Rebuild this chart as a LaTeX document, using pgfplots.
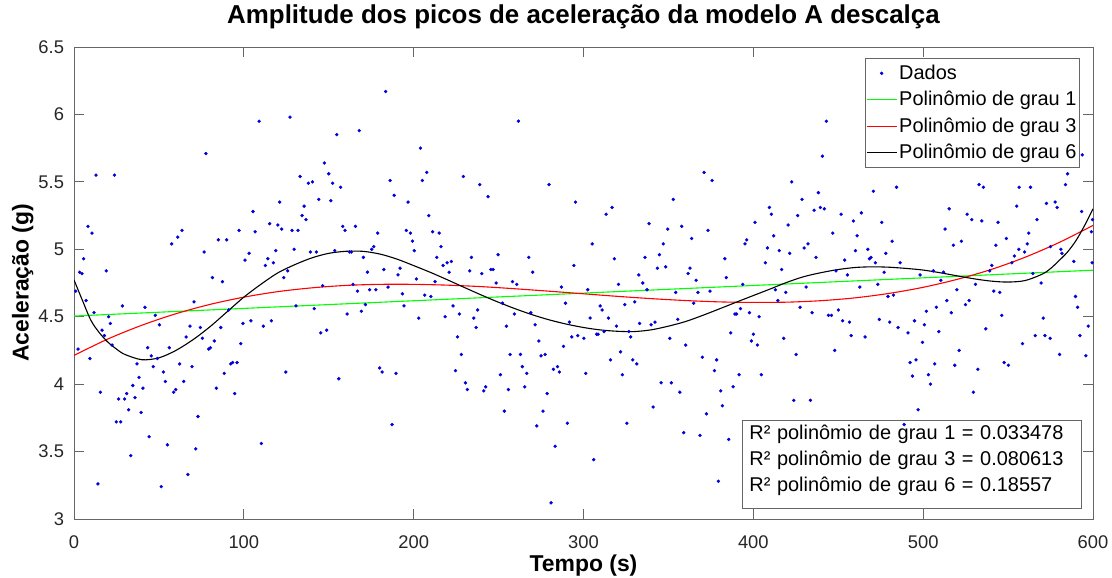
\documentclass[border=0pt]{standalone}
\usepackage{fontspec}
\setmainfont{Liberation Sans}
\usepackage{pgfplots}
\usepackage{pgfplotstable}
\pgfplotsset{compat=1.18}
\definecolor{axgray}{gray}{0.4}
\definecolor{ticktext}{gray}{0.15}
\definecolor{dotblue}{rgb}{0,0,0.85}
\definecolor{mgreen}{rgb}{0,1,0}
\definecolor{mred}{rgb}{1,0,0}
\pgfplotsset{
  linleg/.style={legend image code/.code={\draw[##1] (0bp,0bp) -- (15bp,0bp);}},
  dotleg/.style={legend image code/.code={\path (0bp,0bp) (15bp,0bp); \draw[##1] plot coordinates {(7.5bp,0bp)};}},
}

\pgfplotstableread{
t y
109.0 5.95
77.7 5.71
13.0 5.55
23.8 5.55
105.4 5.28
8.2 5.17
10.6 5.12
63.6 5.14
61.1 5.09
57.5 5.04
97.2 5.14
106.6 5.13
85.0 5.07
89.9 5.07
76.6 4.98
103.1 4.97
100.7 4.92
5.7 4.93
3.3 4.83
4.7 4.82
19.0 4.84
81.5 4.79
87.4 4.76
1.0 4.69
7.1 4.62
70.7 4.61
28.5 4.58
41.8 4.57
11.8 4.53
91.1 4.55
20.4 4.50
47.9 4.51
21.4 4.45
50.3 4.44
99.5 4.45
104.2 4.47
68.3 4.43
74.4 4.42
16.5 4.40
17.9 4.36
66.0 4.35
75.6 4.34
86.4 4.42
22.4 4.29
43.4 4.27
98.2 4.30
79.3 4.26
80.3 4.27
82.6 4.32
56.1 4.27
2.4 4.26
9.4 4.19
45.5 4.21
49.1 4.19
46.7 4.13
37.1 4.15
62.2 4.15
69.5 4.13
92.3 4.15
93.4 4.16
96.0 4.16
52.6 4.09
88.5 4.08
38.3 4.05
53.8 4.02
64.6 4.02
34.6 3.99
40.6 3.97
59.9 3.96
58.7 3.94
83.8 3.97
94.6 3.93
15.5 3.94
31.0 3.93
26.3 3.89
29.8 3.89
35.9 3.90
32.2 3.81
39.5 3.79
73.0 3.76
24.9 3.72
27.5 3.72
44.2 3.61
55.0 3.55
71.7 3.52
33.4 3.47
67.1 3.33
14.1 3.26
51.4 3.24
183.5 6.17
127.2 5.98
154.7 5.85
168.0 5.88
204.0 5.75
147.4 5.64
133.1 5.54
150.0 5.56
138.0 5.49
140.4 5.50
152.3 5.49
157.0 5.46
186.1 5.51
207.7 5.57
205.1 5.51
188.5 5.40
144.1 5.37
151.2 5.36
121.1 5.35
196.7 5.35
135.5 5.32
134.3 5.25
136.6 5.22
208.9 5.25
115.2 5.19
120.0 5.18
122.3 5.15
128.4 5.14
131.9 5.14
158.2 5.17
159.6 5.14
165.7 5.17
178.8 5.12
195.7 5.14
198.1 5.12
211.2 5.13
215.0 5.12
199.3 5.06
216.1 5.02
118.8 4.99
129.6 5.00
139.2 4.98
142.7 4.98
153.5 4.99
162.3 4.98
163.3 4.98
175.3 5.00
176.5 5.02
200.4 4.99
170.4 4.94
114.1 4.93
117.4 4.90
112.7 4.88
213.6 4.94
217.3 4.88
219.7 4.90
125.8 4.84
182.4 4.85
192.0 4.86
172.8 4.83
190.8 4.81
123.5 4.79
201.6 4.78
212.6 4.76
164.3 4.74
146.4 4.73
184.9 4.72
166.9 4.69
174.1 4.70
177.7 4.70
193.4 4.67
206.5 4.66
210.1 4.65
130.7 4.58
141.5 4.56
171.6 4.59
194.3 4.58
169.2 4.54
160.8 4.52
203.0 4.49
218.5 4.50
111.5 4.43
116.2 4.47
145.3 4.38
148.8 4.40
124.7 4.09
155.9 4.04
180.0 4.12
181.4 4.09
189.6 4.08
187.3 3.70
110.3 3.56
261.7 5.95
229.3 5.54
238.9 5.48
243.8 5.39
279.7 5.48
295.3 5.35
313.3 5.26
316.8 5.31
305.1 5.04
318.2 4.93
249.7 4.96
234.0 4.94
267.8 4.94
294.3 4.88
222.2 4.91
233.0 4.84
220.9 4.83
240.1 4.82
245.5 4.85
246.8 4.85
270.1 4.83
332.6 4.81
258.2 4.76
260.7 4.74
248.5 4.75
287.0 4.72
302.5 4.70
320.6 4.74
252.3 4.60
289.4 4.60
324.3 4.59
330.2 4.61
223.2 4.58
309.8 4.58
311.0 4.55
226.9 4.52
237.7 4.55
235.4 4.49
259.3 4.52
303.9 4.49
314.7 4.49
269.0 4.53
291.7 4.46
236.8 4.42
254.6 4.43
271.5 4.44
319.4 4.43
333.0 4.45
307.8 4.37
308.6 4.37
312.1 4.39
326.7 4.39
327.8 4.35
293.1 4.35
296.6 4.36
300.2 4.34
225.8 4.35
273.7 4.32
288.2 4.28
228.1 4.22
256.8 4.22
262.9 4.22
275.0 4.21
277.4 4.22
321.8 4.24
315.9 4.18
329.0 4.18
331.4 4.15
224.6 4.10
264.0 4.13
284.7 4.13
282.3 4.11
285.8 4.09
266.6 4.08
301.3 4.08
322.9 4.07
251.1 4.07
230.5 4.01
231.6 3.96
241.3 3.95
242.4 3.98
255.8 3.96
265.4 3.98
278.6 3.93
253.4 3.80
276.2 3.80
272.5 3.69
290.5 3.71
325.5 3.71
283.3 3.54
306.0 3.44
280.9 3.12
443.0 5.95
440.7 5.69
371.0 5.57
375.7 5.51
422.6 5.50
352.9 5.37
428.7 5.37
438.3 5.42
409.5 5.31
410.6 5.26
439.5 5.31
441.8 5.30
435.8 5.29
426.1 5.25
338.6 5.19
357.8 5.17
349.6 5.15
401.0 5.20
420.5 5.18
373.3 5.14
363.7 5.08
347.0 5.04
395.1 5.04
396.1 5.07
412.0 5.10
408.3 5.01
432.2 5.04
429.9 5.01
415.3 4.99
421.4 4.97
336.2 4.94
344.7 4.96
436.9 4.94
383.2 4.93
407.1 4.90
343.5 4.86
348.4 4.87
362.7 4.86
361.6 4.82
416.7 4.85
366.3 4.77
334.9 4.75
384.1 4.79
393.8 4.74
337.4 4.70
354.3 4.68
367.4 4.68
374.5 4.69
413.0 4.70
419.1 4.68
431.1 4.72
414.4 4.62
364.9 4.60
392.4 4.56
427.5 4.57
434.6 4.53
444.2 4.51
389.2 4.52
390.2 4.52
397.7 4.53
403.4 4.50
355.5 4.48
339.8 4.44
342.1 4.46
386.7 4.38
400.0 4.37
398.9 4.32
402.4 4.29
417.9 4.34
350.8 4.34
360.2 4.29
425.2 4.22
370.0 4.20
378.4 4.18
377.1 4.10
345.7 4.01
351.7 4.01
356.7 3.94
391.6 4.07
404.7 4.07
388.1 3.98
380.8 3.95
423.8 3.88
433.6 3.88
341.0 3.83
381.8 3.84
372.4 3.78
359.0 3.64
368.6 3.62
385.5 3.59
379.4 3.28
484.3 5.46
470.7 5.43
532.9 5.48
535.5 5.46
556.5 5.46
451.7 5.26
463.6 5.27
515.3 5.30
525.9 5.26
528.6 5.22
555.1 5.32
458.9 5.21
475.6 5.20
534.5 5.21
544.1 5.20
446.8 5.12
461.1 5.10
512.9 5.15
549.0 5.08
481.7 5.06
517.8 5.03
522.5 5.06
542.8 5.03
556.3 5.00
460.1 4.99
467.4 5.00
478.0 4.97
468.4 4.93
469.3 4.94
471.9 4.90
453.8 4.92
486.4 4.90
553.7 4.95
552.2 4.90
448.7 4.84
455.4 4.81
477.0 4.83
498.2 4.81
506.0 4.84
512.0 4.83
540.4 4.88
539.2 4.84
473.3 4.74
510.4 4.77
530.8 4.74
462.7 4.72
479.3 4.65
482.5 4.66
519.8 4.70
541.6 4.69
545.1 4.68
513.9 4.62
524.9 4.59
527.1 4.62
450.1 4.55
446.0 4.51
501.9 4.54
507.8 4.57
516.6 4.53
546.3 4.51
452.6 4.47
456.6 4.46
474.2 4.48
480.3 4.46
494.9 4.47
485.2 4.42
500.7 4.44
509.2 4.39
491.1 4.38
536.9 4.41
457.6 4.36
465.8 4.35
499.6 4.31
447.9 4.25
521.2 4.25
492.3 4.16
495.8 4.18
506.8 4.15
518.6 4.14
547.7 4.16
550.2 4.14
493.7 4.06
503.1 4.07
504.3 4.00
532.2 4.11
529.6 3.94
497.0 3.81
488.8 3.70
593.7 5.70
585.0 5.56
583.8 5.48
563.2 5.46
572.6 5.34
577.7 5.35
578.9 5.31
593.3 5.28
567.0 5.22
562.2 5.12
599.7 5.22
599.0 5.13
561.3 5.04
559.7 4.98
575.0 5.02
581.1 5.00
581.7 4.97
588.7 4.91
599.5 4.90
564.6 4.82
569.5 4.75
589.7 4.65
590.9 4.57
570.7 4.49
597.2 4.43
566.0 4.36
571.7 4.36
574.8 4.34
558.5 4.30
592.3 4.36
580.3 4.22
595.8 4.21
}\dados

\pgfplotstableread{
t y
0 4.505
600 4.845
}\grauum

\pgfplotstableread{
t y
0 4.213
20 4.335
40 4.437
60 4.522
80 4.591
100 4.645
120 4.686
140 4.714
160 4.732
180 4.740
200 4.740
220 4.734
240 4.723
260 4.707
280 4.689
300 4.670
320 4.651
340 4.634
360 4.620
380 4.610
400 4.606
420 4.608
440 4.619
460 4.640
480 4.673
500 4.718
520 4.777
540 4.850
560 4.941
580 5.050
600 5.177
}\grautres

\pgfplotstableread{
t y
0 4.773
5 4.620
10 4.472
15 4.380
20 4.311
25 4.260
30 4.220
40 4.181
50 4.195
60 4.250
70 4.329
80 4.425
90 4.535
100 4.645
110 4.740
120 4.825
130 4.886
140 4.936
150 4.970
160 4.985
170 4.985
180 4.965
190 4.928
200 4.879
210 4.828
220 4.773
230 4.716
240 4.660
250 4.607
260 4.558
270 4.514
280 4.476
290 4.445
300 4.420
310 4.402
320 4.392
330 4.390
340 4.403
350 4.430
360 4.464
370 4.509
380 4.558
390 4.608
400 4.657
410 4.706
420 4.756
430 4.798
440 4.827
450 4.850
460 4.865
470 4.870
480 4.867
490 4.858
500 4.846
510 4.826
520 4.803
530 4.781
540 4.764
550 4.757
560 4.768
570 4.815
575 4.857
580 4.916
585 4.980
590 5.065
595 5.175
600 5.300
}\grauseis

\begin{document}
\begin{tikzpicture}
\useasboundingbox (-37bp,-29.5bp) rectangle (519bp,259.5bp);
\begin{axis}[
  scale only axis, width=509.5bp, height=236bp,
  xmin=0, xmax=600, ymin=3, ymax=6.5,
  xtick={0,100,200,300,400,500,600},
  xticklabels={0,100,200,300,400,500,600},
  ytick={3,3.5,4,4.5,5,5.5,6,6.5},
  yticklabels={3,3.5,4,4.5,5,5.5,6,6.5},
  tick align=inside, major tick length=5bp,
  axis line style={axgray, line width=0.5bp},
  tick style={axgray, line width=0.5bp},
  ticklabel style={font=\fontsize{9.2}{11}\selectfont, text=ticktext},
  /pgf/number format/assume math mode=true,
  xticklabel style={anchor=base, yshift=-14.85bp},
  yticklabel style={anchor=east, xshift=-1.5bp},
  title={Amplitude dos picos de aceleração da modelo A descalça},
  title style={font=\bfseries\fontsize{13}{15}\selectfont, at={(axis description cs:0.5,1.0254)}, anchor=base},
  xlabel={Tempo (s)},
  ylabel={Aceleração (g)},
  label style={font=\bfseries\fontsize{11.5}{13}\selectfont},
  xlabel style={at={(axis description cs:0.5,-0.1102)}, anchor=base},
  ylabel style={at={(axis description cs:-0.04465,0.5)}, anchor=base},
  legend style={at={(rel axis cs:0.9872,0.9767)}, anchor=north east,
    draw=axgray, line width=0.5bp, fill=white,
    font=\fontsize{10}{12}\selectfont,
    inner xsep=0.5bp, inner ysep=0.8bp, row sep=0bp,
    nodes={inner sep=1bp, text height=8.7bp, text depth=2.5bp}},
  legend cell align=left,
  clip=true,
]
\addplot[only marks, mark=*, mark size=0.75bp, mark options={draw=dotblue, fill=dotblue, line width=0.2bp}, dotleg]
  table[x=t, y=y] {\dados};
\addlegendentry{Dados}
\addplot[mgreen, line width=0.55bp, no marks, linleg]
  table[x=t, y=y] {\grauum};
\addlegendentry{Polinômio de grau 1}
\addplot[mred, line width=0.55bp, no marks, smooth, linleg]
  table[x=t, y=y] {\grautres};
\addlegendentry{Polinômio de grau 3}
\addplot[black, line width=0.55bp, no marks, smooth, linleg]
  table[x=t, y=y] {\grauseis};
\addlegendentry{Polinômio de grau 6}
\node[draw=axgray, line width=0.5bp, fill=white, anchor=south east, align=left,
  inner xsep=3.65bp, inner ysep=2.2bp, text width=162.4bp,
  font=\fontsize{10}{12.9}\selectfont]
  at (rel axis cs:0.9892,0.0212)
  {R² polinômio de grau 1 = 0.033478\\R² polinômio de grau 3 = 0.080613\\R² polinômio de grau 6 = 0.18557\rule[-6.45bp]{0pt}{1bp}};
\end{axis}
\end{tikzpicture}
\end{document}
